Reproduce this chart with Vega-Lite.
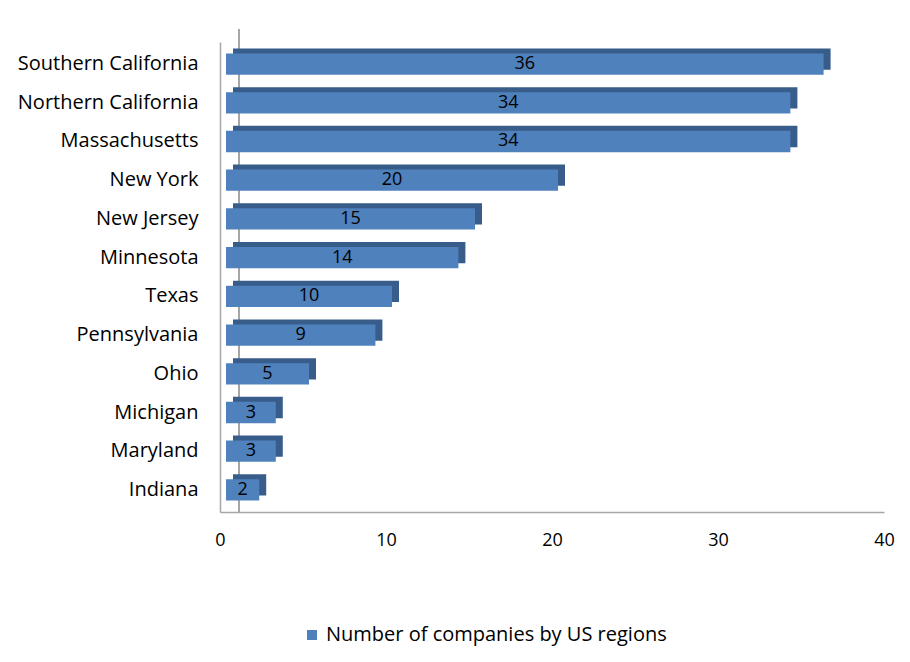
{
  "$schema": "https://vega.github.io/schema/vega-lite/v6.json",
  "width": 664,
  "height": 470,
  "autosize": "none",
  "padding": {"left": 220, "top": 42, "right": 26, "bottom": 150},
  "background": "white",
  "config": {"font": "Open Sans", "view": {"stroke": null}},
  "data": {
    "values": [
      {"region": "Southern California", "companies": 36},
      {"region": "Northern California", "companies": 34},
      {"region": "Massachusetts", "companies": 34},
      {"region": "New York", "companies": 20},
      {"region": "New Jersey", "companies": 15},
      {"region": "Minnesota", "companies": 14},
      {"region": "Texas", "companies": 10},
      {"region": "Pennsylvania", "companies": 9},
      {"region": "Ohio", "companies": 5},
      {"region": "Michigan", "companies": 3},
      {"region": "Maryland", "companies": 3},
      {"region": "Indiana", "companies": 2}
    ]
  },
  "layer": [
    {
      "mark": {"type": "rule", "color": "#a6a6a6", "strokeWidth": 1.5, "xOffset": 19, "yOffset": -13},
      "encoding": {
        "x": {"datum": 0, "type": "quantitative", "scale": {"domain": [0, 40]}, "axis": null}
      }
    },
    {
      "mark": {"type": "bar", "color": "#385D8A", "xOffset": 13, "yOffset": -5},
      "encoding": {
        "y": {"field": "region", "type": "nominal", "sort": null, "scale": {"paddingInner": 0.45, "paddingOuter": 0.295}},
        "x": {"field": "companies", "type": "quantitative", "scale": {"domain": [0, 40]}, "axis": null}
      }
    },
    {
      "mark": {"type": "bar", "xOffset": 6},
      "encoding": {
        "y": {
          "field": "region", "type": "nominal", "sort": null,
          "scale": {"paddingInner": 0.45, "paddingOuter": 0.295},
          "axis": {"title": null, "ticks": false, "domainColor": "#a6a6a6", "domainWidth": 1.5, "labelFontSize": 20, "labelPadding": 22, "labelColor": "#000000", "labelFont": "Open Sans", "labelLimit": 400}
        },
        "x": {
          "field": "companies", "type": "quantitative",
          "scale": {"domain": [0, 40]},
          "axis": {"title": null, "grid": false, "ticks": false, "labelFlush": false, "values": [0, 10, 20, 30, 40], "domainColor": "#a6a6a6", "domainWidth": 1.5, "labelFontSize": 18, "labelPadding": 19, "labelColor": "#000000", "labelFont": "Open Sans"}
        },
        "color": {
          "datum": "Number of companies by US regions",
          "scale": {"range": ["#4F81BD"]},
          "legend": {"orient": "none", "legendX": 82, "legendY": 583, "title": null, "symbolType": "square", "symbolSize": 100, "symbolStrokeWidth": 0, "labelFontSize": 20, "labelFont": "Open Sans", "labelColor": "#000000", "labelLimit": 600}
        }
      }
    },
    {
      "mark": {"type": "text", "xOffset": 6, "fontSize": 18, "font": "Open Sans", "color": "#000000"},
      "encoding": {
        "y": {"field": "region", "type": "nominal", "sort": null, "scale": {"paddingInner": 0.45, "paddingOuter": 0.295}},
        "x": {"field": "companies", "type": "quantitative", "scale": {"domain": [0, 80]}, "axis": null},
        "text": {"field": "companies", "type": "quantitative"}
      }
    }
  ],
  "resolve": {"scale": {"x": "independent"}}
}
